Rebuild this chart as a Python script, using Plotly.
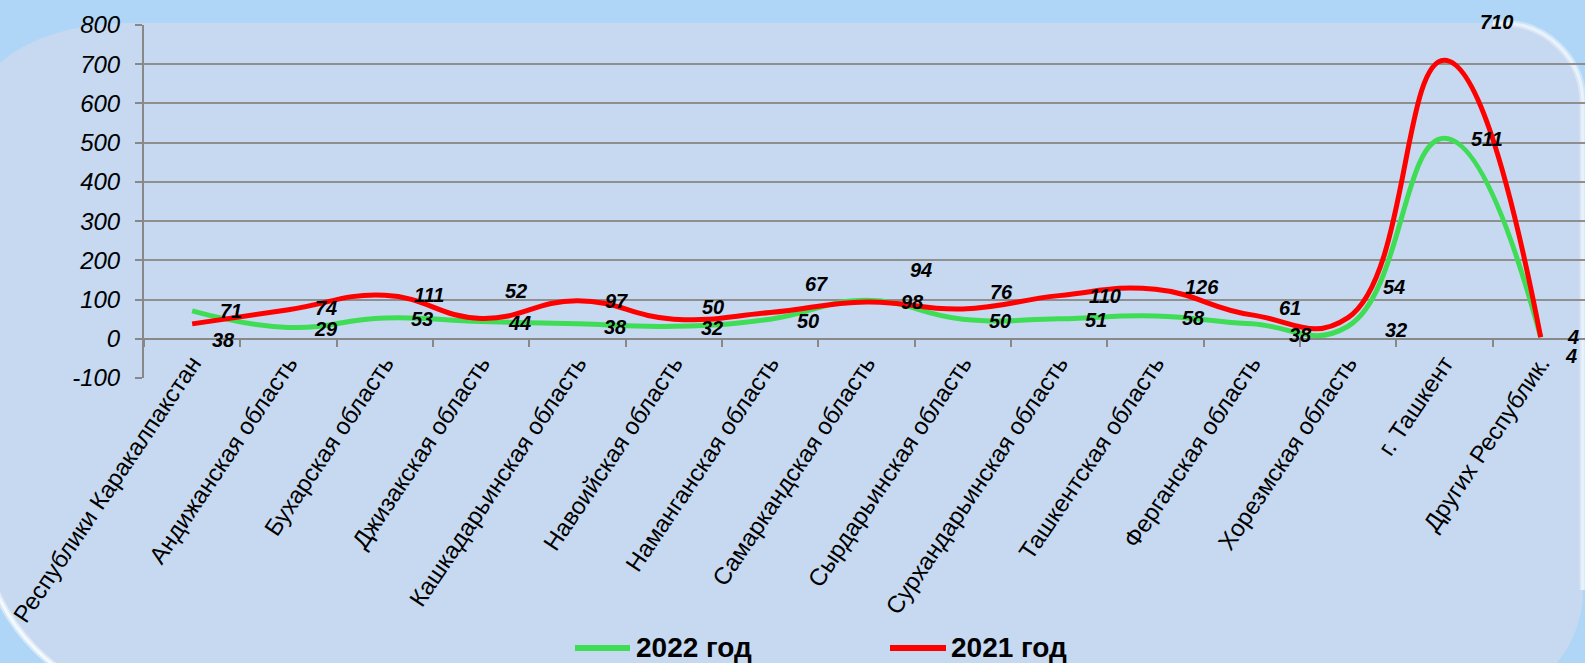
import plotly.graph_objects as go

W, H = 1585, 663

categories = ["Республики Каракалпакстан", "Андижанская область", "Бухарская область",
              "Джизакская область", "Кашкадарьинская область", "Навоийская область",
              "Наманганская область", "Самаркандская область", "Сырдарьинская область",
              "Сурхандарьинская область", "Ташкентская область", "Ферганская область",
              "Хорезмская область", "г. Ташкент", "Других Республик."]
values_2022 = [71, 29, 53, 44, 38, 32, 50, 98, 50, 51, 58, 38, 32, 511, 4]
values_2021 = [38, 74, 111, 52, 97, 50, 67, 94, 76, 110, 126, 61, 54, 710, 4]
y_ticks = [-100, 0, 100, 200, 300, 400, 500, 600, 700, 800]
y_tick_text = [str(v) for v in y_ticks]
series_names = ["2022 год", "2021 год"]

# label offsets (pixels) as placed in the reference
dx_2021 = [18, 25, 27, 22, 26, 26, 33, 42, 25, 28, 28, 25, 33, 34, 24]
dy_2021 = [-16, 2, 0, 27, 0, 12, 29, 32, 17, 0, 2, 7, 31, 38, 0]
dx_2022 = [26, 24, 24, 25, 25, 25, 25, 33, 24, 24, 25, 35, 35, 25, 22]
dy_2022 = [0, -2, -1, -1, -3, -2, -2, -2, -2, -1, -2, -11, -4, -1, -19]

GREEN = "#3fdc55"
RED = "#ff0000"
FONT = "Liberation Sans, Arial, sans-serif"

fig = go.Figure()
fig.add_trace(go.Scatter(x=categories, y=values_2022, mode="lines", name=series_names[0],
                         line=dict(color=GREEN, width=5, shape="spline", smoothing=1.3),
                         showlegend=False))
fig.add_trace(go.Scatter(x=categories, y=values_2021, mode="lines", name=series_names[1],
                         line=dict(color=RED, width=5, shape="spline", smoothing=1.3),
                         showlegend=False))

annotations = []
for vals, dxs, dys in ((values_2022, dx_2022, dy_2022), (values_2021, dx_2021, dy_2021)):
    for c, v, dx, dy in zip(categories, vals, dxs, dys):
        annotations.append(dict(x=c, y=v, xref="x", yref="y", text=str(v), showarrow=False,
                                xanchor="left", yanchor="middle", xshift=dx, yshift=dy,
                                font=dict(family=FONT, size=20, color="black",
                                          weight="bold", style="italic")))


def P(x, y):
    return f"{x / W:.5f},{1 - y / H:.5f}"


K = 0.5523
X0, Y0, X1, Y1 = -20, 23, 1583, 705
TL, TR, BR, BL = (150, 80), (80, 80), (115, 115), (190, 190)


def panel_path():
    s = "M " + P(X0 + TL[0], Y0)
    s += " L " + P(X1 - TR[0], Y0)
    s += " C " + P(X1 - TR[0] + K * TR[0], Y0) + " " + P(X1, Y0 + TR[1] - K * TR[1]) + " " + P(X1, Y0 + TR[1])
    s += " L " + P(X1, Y1 - BR[1])
    s += " C " + P(X1, Y1 - BR[1] + K * BR[1]) + " " + P(X1 - BR[0] + K * BR[0], Y1) + " " + P(X1 - BR[0], Y1)
    s += " L " + P(X0 + BL[0], Y1)
    s += " C " + P(X0 + BL[0] - K * BL[0], Y1) + " " + P(X0, Y1 - BL[1] + K * BL[1]) + " " + P(X0, Y1 - BL[1])
    s += " L " + P(X0, Y0 + TL[1])
    s += " C " + P(X0, Y0 + TL[1] - K * TL[1]) + " " + P(X0 + TL[0] - K * TL[0], Y0) + " " + P(X0 + TL[0], Y0)
    s += " Z"
    return s


def glow_tr():
    s = "M " + P(X1 - TR[0] - 10, Y0)
    s += " L " + P(X1 - TR[0], Y0)
    s += " C " + P(X1 - TR[0] + K * TR[0], Y0) + " " + P(X1, Y0 + TR[1] - K * TR[1]) + " " + P(X1, Y0 + TR[1])
    s += " L " + P(X1, Y1 - BR[1])
    return s


def glow_bl():
    s = "M " + P(X0 + BL[0] + 20, Y1)
    s += " L " + P(X0 + BL[0], Y1)
    s += " C " + P(X0 + BL[0] - K * BL[0], Y1) + " " + P(X0, Y1 - BL[1] + K * BL[1]) + " " + P(X0, Y1 - BL[1])
    return s


shapes = [
    dict(type="path", path=panel_path(), xref="paper", yref="paper", layer="below",
         fillcolor="#c6d9f0", line=dict(width=0)),
    dict(type="path", path=glow_tr(), xref="paper", yref="paper", layer="below",
         line=dict(color="rgba(255,255,255,0.35)", width=7)),
    dict(type="path", path=glow_tr(), xref="paper", yref="paper", layer="below",
         line=dict(color="rgba(255,255,255,0.5)", width=3)),
    dict(type="path", path=glow_bl(), xref="paper", yref="paper", layer="below",
         line=dict(color="rgba(255,255,255,0.45)", width=7)),
    dict(type="path", path=glow_bl(), xref="paper", yref="paper", layer="below",
         line=dict(color="rgba(255,255,255,0.7)", width=3)),
]

# manual legend (line sample + bold label)
legend_items = [(575, 630, 634, GREEN, series_names[0]), (890, 946, 949, RED, series_names[1])]
for lx0, lx1, tx, col, name in legend_items:
    shapes.append(dict(type="line", xref="paper", yref="paper",
                       x0=lx0 / W, x1=lx1 / W, y0=1 - 648 / H, y1=1 - 648 / H,
                       line=dict(color=col, width=6)))
    annotations.append(dict(x=tx / W, y=1 - 647 / H, xref="paper", yref="paper", text=name,
                            showarrow=False, xanchor="left", yanchor="middle",
                            font=dict(family=FONT, size=28, color="black", weight="bold")))

x_dom0 = 144 / W
y_dom0 = 1 - 378 / H
y_dom1 = 1 - 25 / H
zero_pos = y_dom0 + (y_dom1 - y_dom0) * 100 / 900

fig.update_layout(
    width=W, height=H,
    margin=dict(l=0, r=0, t=0, b=0, pad=0),
    paper_bgcolor="#afd6f7",
    plot_bgcolor="rgba(0,0,0,0)",
    font=dict(family=FONT, color="black"),
    shapes=shapes,
    annotations=annotations,
    showlegend=False,
    xaxis=dict(domain=[x_dom0, 1], range=[-0.5, 14.46], type="category",
               anchor="free", position=zero_pos, automargin=False,
               showline=True, linecolor="#888888", linewidth=2,
               ticks="outside", tickson="boundaries", ticklen=7, tickwidth=2, tickcolor="#888888",
               showgrid=False, tickangle=-56,
               tickfont=dict(family=FONT, size=24, color="black")),
    yaxis=dict(domain=[y_dom0, y_dom1], range=[-100, 800], tickvals=y_ticks, ticktext=y_tick_text,
               automargin=False,
               showline=True, linecolor="#888888", linewidth=2,
               ticks="outside", ticklen=7, tickwidth=2, tickcolor="#888888",
               showgrid=True, gridcolor="#8f8f8f", gridwidth=2, zeroline=False,
               ticklabelstandoff=10,
               tickfont=dict(family=FONT, size=24, color="black", style="italic")),
)

fig.write_html("out.html", config={"displayModeBar": False},
               post_script="document.body.style.margin='0';document.body.style.overflow='hidden';")
